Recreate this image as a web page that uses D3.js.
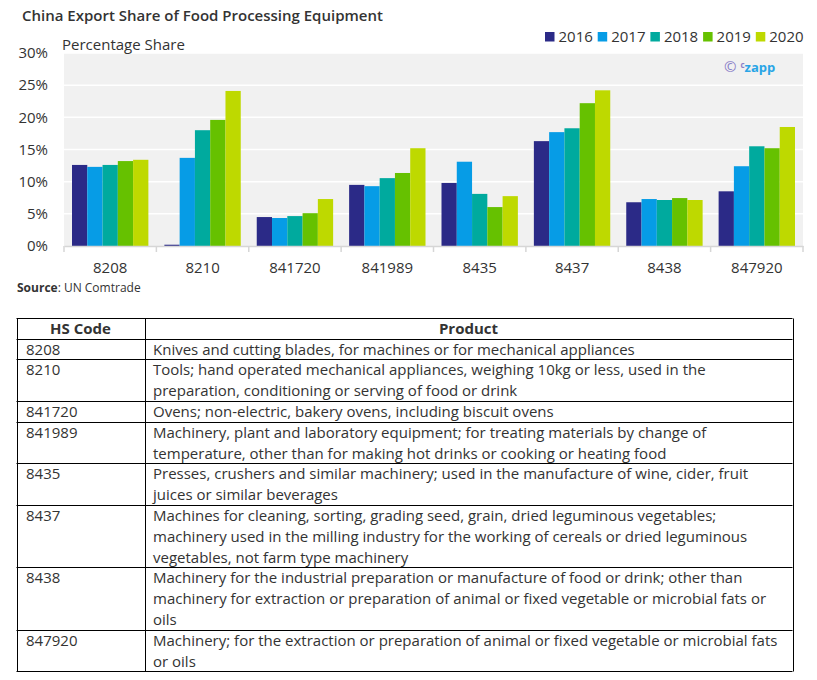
<!DOCTYPE html>
<html><head><meta charset="utf-8">
<script src="https://cdn.jsdelivr.net/npm/d3@7"></script>
<style>
body{margin:0;background:#fff;}
svg text{font-family:"Open Sans",sans-serif;}
</style></head>
<body><svg id="c" width="817" height="680"></svg>
<script>
const categories = ["8208","8210","841720","841989","8435","8437","8438","847920"];
const years = ["2016","2017","2018","2019","2020"];
const v2016 = [12.6, 0.2, 4.5, 9.5, 9.8, 16.3, 6.8, 8.5];
const v2017 = [12.3, 13.7, 4.35, 9.3, 13.1, 17.7, 7.3, 12.4];
const v2018 = [12.6, 18.0, 4.65, 10.55, 8.1, 18.3, 7.15, 15.5];
const v2019 = [13.2, 19.6, 5.1, 11.35, 6.05, 22.2, 7.45, 15.2];
const v2020 = [13.4, 24.1, 7.3, 15.2, 7.75, 24.2, 7.15, 18.5];
const yTicks = [0,5,10,15,20,25,30];
const colors = ["#2b2a87","#069ce6","#00aa9e","#66c100","#bed900"];
const tableCodes = ["8208","8210","841720","841989","8435","8437","8438","847920"];
const tableProducts = [
 ["Knives and cutting blades, for machines or for mechanical appliances"],
 ["Tools; hand operated mechanical appliances, weighing 10kg or less, used in the","preparation, conditioning or serving of food or drink"],
 ["Ovens; non-electric, bakery ovens, including biscuit ovens"],
 ["Machinery, plant and laboratory equipment; for treating materials by change of","temperature, other than for making hot drinks or cooking or heating food"],
 ["Presses, crushers and similar machinery; used in the manufacture of wine, cider, fruit","juices or similar beverages"],
 ["Machines for cleaning, sorting, grading seed, grain, dried leguminous vegetables;","machinery used in the milling industry for the working of cereals or dried leguminous","vegetables, not farm type machinery"],
 ["Machinery for the industrial preparation or manufacture of food or drink; other than","machinery for extraction or preparation of animal or fixed vegetable or microbial fats or","oils"],
 ["Machinery; for the extraction or preparation of animal or fixed vegetable or microbial fats","or oils"]
];

const series = [v2016,v2017,v2018,v2019,v2020];
const svg = d3.select("#c");
const txt = "#333";
const L=64, R=803, T=53, B=246;

// title
svg.append("text").attr("x",22).attr("y",21).attr("font-size",15).attr("font-weight",600).attr("fill",txt)
  .text("China Export Share of Food Processing Equipment");

const x0 = d3.scaleBand().domain(categories).range([L,R]).padding(0);
const bw = x0.bandwidth();
const x1 = d3.scaleBand().domain(years).range([8, bw-8]).padding(0);
const y = d3.scaleLinear().domain([0,30]).range([B,T]);

// background
svg.append("rect").attr("x",L).attr("y",y(30)).attr("width",R-L).attr("height",y(0)-y(30)).attr("fill","#f1f1f1");
// grid
svg.append("g").selectAll("line").data(yTicks.filter(d=>d>0)).join("line")
  .attr("x1",L).attr("x2",R).attr("y1",d=>y(d)).attr("y2",d=>y(d)).attr("stroke","#fff").attr("stroke-width",1.5);

// y axis
const ya = svg.append("g").attr("transform",`translate(${L},0)`)
  .call(d3.axisLeft(y).tickValues(yTicks).tickFormat(d=>d+"%").tickSize(0).tickPadding(16));
ya.select(".domain").remove();
ya.selectAll("text").attr("font-size",15).attr("fill",txt).attr("font-family","Open Sans");

svg.append("text").attr("x",62).attr("y",50).attr("font-size",15).attr("fill",txt).text("Percentage Share");

// watermark
const wm = svg.append("text").attr("x",724).attr("y",72).attr("font-size",13).attr("font-weight",700);
wm.append("tspan").attr("fill","#8a80c8").attr("font-weight",400).attr("font-size",15).text("©");
wm.append("tspan").attr("fill","#8a80c8").attr("font-size",8).attr("dy",-4).attr("dx",4).text("c");
wm.append("tspan").attr("fill","#2aa5e6").attr("dy",4).text("zapp");

// bars
const data = [];
categories.forEach((c,i)=>years.forEach((yr,j)=>data.push({c,yr,v:series[j][i],j})));
svg.append("g").selectAll("rect").data(data).join("rect")
  .attr("x",d=>x0(d.c)+x1(d.yr)).attr("width",x1.bandwidth())
  .attr("y",d=>y(d.v)).attr("height",d=>y(0)-y(d.v)).attr("fill",d=>colors[d.j]);

// x axis
const xa = svg.append("g").attr("transform",`translate(0,${B})`)
  .call(d3.axisBottom(x0).tickSize(0).tickPadding(16));
xa.select(".domain").attr("stroke","#d6d6d6").attr("stroke-width",1.5);
xa.selectAll("text").attr("font-size",15).attr("fill",txt).attr("font-family","Open Sans");
const edges = categories.map(c=>x0(c)).concat([R]);
xa.append("g").selectAll("line").data(edges).join("line")
  .attr("x1",d=>d).attr("x2",d=>d).attr("y1",0).attr("y2",6).attr("stroke","#d6d6d6").attr("stroke-width",1.5);

// source
const src = svg.append("text").attr("x",17).attr("y",292).attr("font-size",12).attr("fill",txt);
src.append("tspan").attr("font-weight",700).text("Source");
src.append("tspan").text(": UN Comtrade");

// legend
const lg = svg.append("g");
years.forEach((yr,i)=>{
  const lx = 545 + i*52.7;
  lg.append("rect").attr("x",lx).attr("y",32).attr("width",9.5).attr("height",9.5).attr("fill",colors[i]);
  lg.append("text").attr("x",lx+13.5).attr("y",41.5).attr("font-size",15).attr("fill",txt).text(yr);
});

// table
const tL=16.5, tR=792.5, tC=144.5, tTop=317.5, lh=20.8, hh=21, fs=15;
const tg = svg.append("g");
tg.append("text").attr("x",(tL+tC)/2).attr("y",tTop+16).attr("text-anchor","middle").attr("font-size",fs).attr("font-weight",700).attr("fill",txt).text("HS Code");
tg.append("text").attr("x",(tC+tR)/2).attr("y",tTop+16).attr("text-anchor","middle").attr("font-size",fs).attr("font-weight",700).attr("fill",txt).text("Product");
let cy = tTop+hh;
const hlines=[tTop, cy];
tableCodes.forEach((code,i)=>{
  const lines = tableProducts[i];
  tg.append("text").attr("x",tL+9.5).attr("y",cy+16).attr("font-size",fs).attr("fill",txt).text(code);
  lines.forEach((ln,k)=>{
    tg.append("text").attr("x",tC+8.5).attr("y",cy+16+k*lh).attr("font-size",fs).attr("fill",txt).text(ln);
  });
  cy += lines.length*lh;
  hlines.push(cy);
});
tg.selectAll("line.h").data(hlines).join("line").attr("class","h")
  .attr("x1",tL).attr("x2",tR).attr("y1",d=>Math.round(d)+0.5).attr("y2",d=>Math.round(d)+0.5).attr("stroke","#000");
[tL,tC,tR].forEach(xx=>tg.append("line").attr("x1",Math.round(xx)+0.5).attr("x2",Math.round(xx)+0.5)
  .attr("y1",Math.round(tTop)+0.5).attr("y2",Math.round(cy)+0.5).attr("stroke","#000"));
</script></body></html>
